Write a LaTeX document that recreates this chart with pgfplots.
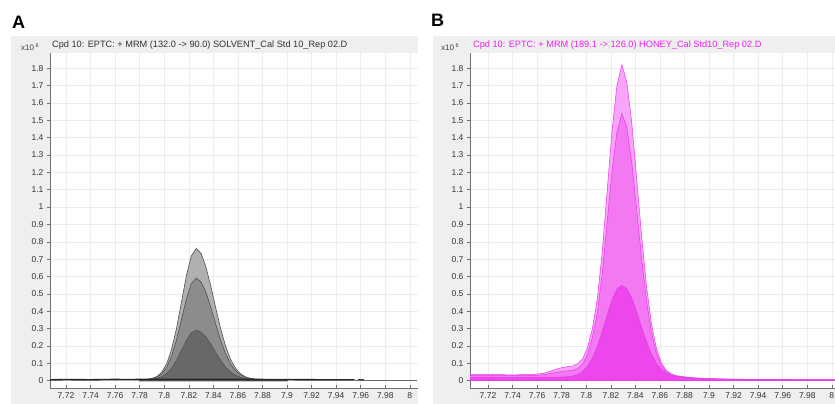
\documentclass[border=0pt]{standalone}
\usepackage{fontspec}
\setmainfont{Liberation Sans}
\usepackage{pgfplots}
\pgfplotsset{compat=1.18}
\definecolor{panelgray}{HTML}{EFEFEF}
\definecolor{gridgray}{HTML}{ECECEC}
\definecolor{axisgray}{HTML}{707070}
\definecolor{grayA1}{HTML}{B0B0B0}
\definecolor{grayA2}{HTML}{8C8C8C}
\definecolor{grayA3}{HTML}{686868}
\definecolor{lineA}{HTML}{505050}
\definecolor{magB1}{HTML}{F8A4F8}
\definecolor{magB2}{HTML}{F279F2}
\definecolor{magB3}{HTML}{EC46EC}
\definecolor{lineB}{HTML}{E838E8}
\definecolor{titleB}{HTML}{F020F0}
\pgfplotsset{
  chrom/.style={
    scale only axis,
    height=335pt,
    ymin=-0.042, ymax=1.887,
    axis background/.style={fill=white},
    axis lines=left,
    axis line style={-, draw=axisgray, line width=0.6pt},
    xmajorgrids, ymajorgrids,
    grid style={draw=gridgray, line width=0.5pt},
    xtick={7.72,7.74,7.76,7.78,7.8,7.82,7.84,7.86,7.88,7.9,7.92,7.94,7.96,7.98,8},
    ytick={0,0.1,0.2,0.3,0.4,0.5,0.6,0.7,0.8,0.9,1,1.1,1.2,1.3,1.4,1.5,1.6,1.7,1.8},
    xtick align=inside, ytick align=outside,
    major tick length=3pt,
    tick style={draw=axisgray, line width=0.5pt},
    tick label style={font=\fontsize{8.5}{9}\selectfont, text=black!80},
    xticklabel style={yshift=-1pt},
    /pgf/number format/assume math mode=true,
    xticklabel={\pgfmathprintnumber[fixed,precision=2]{\tick}},
    yticklabel={\pgfmathprintnumber[fixed,precision=1]{\tick}},
    clip=true,
  }
}
\begin{document}
\begin{tikzpicture}[x=1pt,y=1pt]
\path[use as bounding box] (0,0) rectangle (835,404);
\fill[panelgray] (11,0) rectangle (418,368);
\fill[panelgray] (433,0) rectangle (835,368);
\node[font=\bfseries\fontsize{18}{18}\selectfont, anchor=west, inner sep=0pt] at (12,382) {A};
\node[font=\bfseries\fontsize{18}{18}\selectfont, anchor=west, inner sep=0pt] at (431,384) {B};
\node[font=\fontsize{8}{9}\selectfont, text=black!75, anchor=west, inner sep=0pt] at (21,357) {x10\raisebox{2.5pt}{\fontsize{5.5}{6}\selectfont\ 6}};
\node[font=\fontsize{8}{9}\selectfont, text=black!75, anchor=west, inner sep=0pt] at (441,357) {x10\raisebox{2.5pt}{\fontsize{5.5}{6}\selectfont\ 6}};
\node[font=\fontsize{9.2}{10}\selectfont, text=black!80, anchor=west, inner sep=0pt] at (52,359) {Cpd 10: EPTC: + MRM (132.0 -> 90.0) SOLVENT\_Cal Std 10\_Rep 02.D};
\node[font=\fontsize{9.2}{10}\selectfont, text=titleB, anchor=west, inner sep=0pt] at (473,359) {Cpd 10: EPTC: + MRM (189.1 -> 126.0) HONEY\_Cal Std10\_Rep 02.D};

% Panel A
\begin{axis}[chrom, at={(50pt,16pt)}, anchor=south west, width=368pt,
  xmin=7.70697, xmax=8.00664]
\addplot[fill=grayA1, draw=lineA, line width=0.6pt] coordinates {
(7.780,0.006)(7.782,0.007)(7.786,0.008)(7.790,0.013)(7.794,0.024)(7.798,0.049)(7.802,0.098)(7.806,0.181)(7.810,0.302)(7.814,0.452)(7.818,0.604)(7.822,0.718)(7.826,0.761)(7.830,0.733)(7.834,0.654)(7.838,0.542)(7.842,0.417)(7.846,0.297)(7.850,0.198)(7.854,0.123)(7.858,0.072)(7.862,0.041)(7.866,0.023)(7.870,0.014)(7.874,0.009)(7.878,0.007)(7.886,0.006)(7.900,0.005)
} \closedcycle;
\addplot[fill=grayA2, draw=lineA, line width=0.6pt] coordinates {
(7.780,0.006)(7.782,0.006)(7.786,0.008)(7.790,0.011)(7.794,0.020)(7.798,0.039)(7.802,0.077)(7.806,0.142)(7.810,0.236)(7.814,0.352)(7.818,0.469)(7.822,0.558)(7.826,0.591)(7.830,0.569)(7.834,0.508)(7.838,0.421)(7.842,0.324)(7.846,0.232)(7.850,0.155)(7.854,0.097)(7.858,0.057)(7.862,0.033)(7.866,0.019)(7.870,0.012)(7.874,0.008)(7.878,0.007)(7.886,0.006)(7.900,0.005)
} \closedcycle;
\addplot[fill=grayA3, draw=lineA, line width=0.6pt] coordinates {
(7.780,0.006)(7.782,0.006)(7.786,0.007)(7.790,0.009)(7.794,0.013)(7.798,0.022)(7.802,0.041)(7.806,0.072)(7.810,0.118)(7.814,0.174)(7.818,0.232)(7.822,0.275)(7.826,0.291)(7.830,0.280)(7.834,0.251)(7.838,0.208)(7.842,0.161)(7.846,0.116)(7.850,0.078)(7.854,0.050)(7.858,0.031)(7.862,0.019)(7.866,0.012)(7.870,0.009)(7.874,0.007)(7.878,0.006)(7.886,0.006)(7.900,0.005)
} \closedcycle;
\addplot[draw=black!85, line width=1.6pt] coordinates {
(7.707,0.005)(7.72,0.006)(7.74,0.005)(7.76,0.007)(7.77,0.006)(7.78,0.007)(7.79,0.008)(7.85,0.008)(7.87,0.007)(7.90,0.006)(7.93,0.005)(7.955,0.005)
};
\addplot[draw=black!80, line width=2.2pt] coordinates {(7.958,0.005)(7.963,0.005)};
\addplot[draw=black!60, line width=0.8pt] coordinates {
(7.955,0.004)(7.98,0.004)(8.006,0.004)
};
\end{axis}

% Panel B
\begin{axis}[chrom, at={(470pt,16pt)}, anchor=south west, width=365pt,
  xmin=7.70534, xmax=8.00257]
\addplot[fill=magB1, draw=lineB, line width=0.5pt] coordinates {
(7.705,0.035)(7.72,0.035)(7.74,0.034)(7.755,0.035)(7.765,0.042)(7.772,0.058)(7.778,0.072)(7.784,0.080)(7.789,0.085)(7.793,0.098)(7.797,0.125)(7.801,0.19)(7.805,0.30)(7.809,0.47)(7.813,0.74)(7.817,1.09)(7.821,1.44)(7.825,1.70)(7.829,1.82)(7.833,1.72)(7.837,1.49)(7.841,1.17)(7.845,0.84)(7.849,0.55)(7.853,0.33)(7.857,0.19)(7.861,0.105)(7.865,0.06)(7.869,0.04)(7.873,0.03)(7.88,0.022)(7.89,0.016)(7.90,0.012)(7.92,0.009)(7.95,0.007)(7.98,0.006)(8.003,0.006)
} \closedcycle;
\addplot[fill=magB2, draw=lineB, line width=0.5pt] coordinates {
(7.705,0.030)(7.74,0.029)(7.755,0.030)(7.765,0.034)(7.772,0.043)(7.778,0.051)(7.784,0.056)(7.789,0.060)(7.793,0.070)(7.797,0.093)(7.801,0.152)(7.805,0.25)(7.809,0.39)(7.813,0.615)(7.817,0.91)(7.821,1.21)(7.825,1.43)(7.829,1.54)(7.833,1.46)(7.837,1.26)(7.841,0.99)(7.845,0.71)(7.849,0.465)(7.853,0.28)(7.857,0.16)(7.861,0.09)(7.865,0.052)(7.869,0.035)(7.873,0.027)(7.88,0.02)(7.89,0.014)(7.9,0.011)(7.92,0.008)(7.95,0.006)(7.98,0.005)(8.003,0.005)
} \closedcycle;
\addplot[fill=magB3, draw=lineB, line width=0.5pt] coordinates {
(7.705,0.019)(7.74,0.018)(7.765,0.019)(7.78,0.020)(7.785,0.023)(7.789,0.027)(7.793,0.035)(7.797,0.052)(7.801,0.082)(7.805,0.129)(7.809,0.197)(7.813,0.283)(7.817,0.377)(7.821,0.465)(7.825,0.527)(7.829,0.55)(7.833,0.530)(7.837,0.478)(7.841,0.398)(7.845,0.310)(7.849,0.226)(7.853,0.155)(7.857,0.102)(7.861,0.066)(7.865,0.044)(7.869,0.031)(7.873,0.024)(7.88,0.018)(7.89,0.013)(7.9,0.010)(7.92,0.007)(7.95,0.005)(8.003,0.004)
} \closedcycle;
\end{axis}
\end{tikzpicture}
\end{document}
